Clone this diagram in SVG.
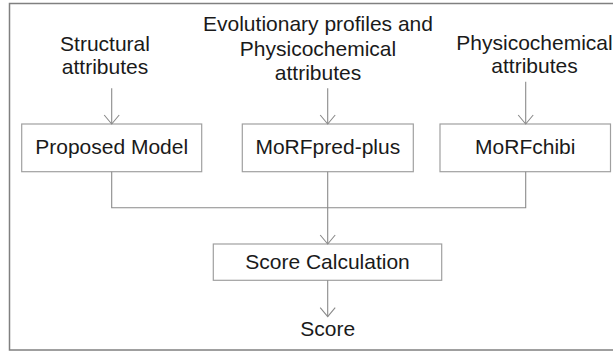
<svg xmlns="http://www.w3.org/2000/svg" width="613" height="351" viewBox="0 0 613 351">
<defs>
<style>
.frame{fill:#fff;stroke:#808080;stroke-width:1.5}
.box{fill:#fff;stroke:#a0a0a0;stroke-width:1.2}
.lbl{font-family:"Liberation Sans",Arial,sans-serif;font-size:21px;fill:#1a1a1a;text-anchor:middle}
.con{fill:none;stroke:#8a8a8a;stroke-width:1.1}
</style>
<marker id="ah" markerUnits="userSpaceOnUse" markerWidth="20" markerHeight="20" refX="10" refY="10" orient="auto" viewBox="0 0 20 20">
<path d="M1,2.5 L10,10 L1,17.5" fill="none" stroke="#8a8a8a" stroke-width="1.1"/>
</marker>
</defs>
<rect class="frame" x="9.5" y="3.5" width="610" height="346.5"/>
<g id="input1">
<text class="lbl" x="105" y="50.5">Structural</text>
<text class="lbl" x="105" y="74">attributes</text>
</g>
<g id="input2">
<text class="lbl" x="318" y="31">Evolutionary profiles and</text>
<text class="lbl" x="318" y="55.5">Physicochemical</text>
<text class="lbl" x="318" y="80">attributes</text>
</g>
<g id="input3">
<text class="lbl" x="534.5" y="49.5">Physicochemical</text>
<text class="lbl" x="534.5" y="72.5">attributes</text>
</g>
<g id="proposed">
<rect class="box" x="21.7" y="124" width="180" height="47.7"/>
<text class="lbl" x="111.7" y="154">Proposed Model</text>
</g>
<g id="morfpred">
<rect class="box" x="242.3" y="124" width="171" height="47.7"/>
<text class="lbl" x="327.8" y="154">MoRFpred-plus</text>
</g>
<g id="morfchibi">
<rect class="box" x="440" y="124" width="170.5" height="47.7"/>
<text class="lbl" x="525.3" y="154">MoRFchibi</text>
</g>
<g id="score-calc">
<rect class="box" x="213.3" y="244" width="228.4" height="36.3"/>
<text class="lbl" x="327.5" y="268.5">Score Calculation</text>
</g>
<g id="score">
<text class="lbl" x="327.7" y="336">Score</text>
</g>
<g id="connectors">
<line class="con" x1="111.7" y1="88.3" x2="111.7" y2="124" marker-end="url(#ah)"/>
<line class="con" x1="327.7" y1="88.3" x2="327.7" y2="124" marker-end="url(#ah)"/>
<line class="con" x1="525.7" y1="81.7" x2="525.7" y2="124" marker-end="url(#ah)"/>
<polyline class="con" points="111.7,171.7 111.7,207.7 525.7,207.7 525.7,171.7"/>
<line class="con" x1="327.7" y1="171.7" x2="327.7" y2="244" marker-end="url(#ah)"/>
<line class="con" x1="327.7" y1="280.3" x2="327.7" y2="316.7" marker-end="url(#ah)"/>
</g>
</svg>
